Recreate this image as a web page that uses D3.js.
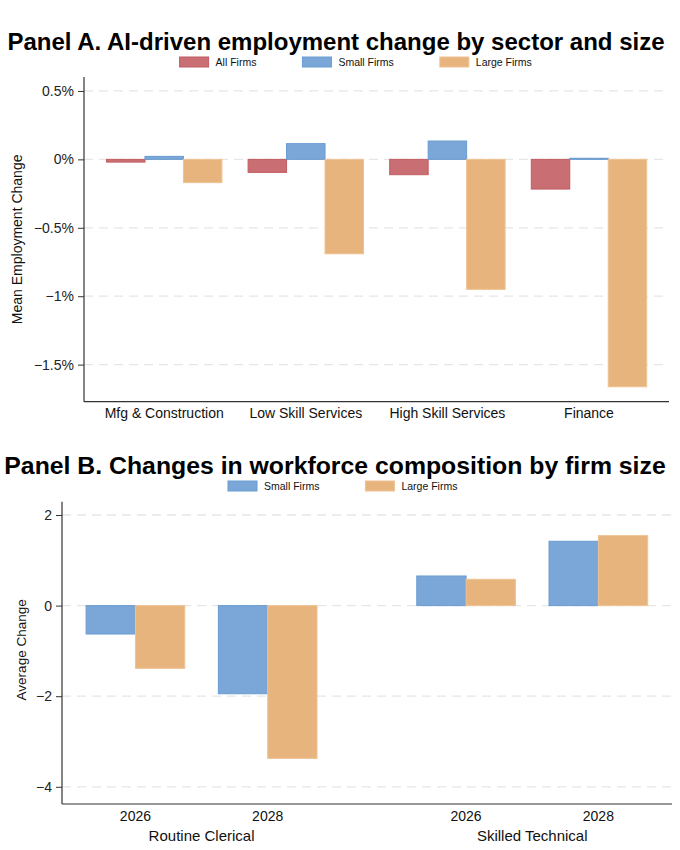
<!DOCTYPE html>
<html>
<head>
<meta charset="utf-8">
<script src="https://cdn.jsdelivr.net/npm/d3@7"></script>
<style>
  html, body { margin: 0; padding: 0; background: #fff; }
  svg { display: block; font-family: "Liberation Sans", Arial, Helvetica, sans-serif; }
</style>
</head>
<body>
<svg id="chart" width="680" height="850"></svg>
<script>
// ---------- Data ----------
const sectors = ["Mfg & Construction", "Low Skill Services", "High Skill Services", "Finance"];
const seriesA = ["All Firms", "Small Firms", "Large Firms"];
const allFirms   = [-0.02, -0.095, -0.112, -0.217];
const smallFirmsA = [0.022, 0.115, 0.134, 0.008];
const largeFirmsA = [-0.17, -0.69, -0.95, -1.662];
const ticksA = [0.5, 0, -0.5, -1, -1.5];

const occupations = ["Routine Clerical", "Skilled Technical"];
const years = ["2026", "2028"];
const seriesB = ["Small Firms", "Large Firms"];
const smallFirmsB = [[-0.627, -1.946], [0.654, 1.42]];
const largeFirmsB = [[-1.385, -3.372], [0.581, 1.545]];
const ticksB = [2, 0, -2, -4];

// ---------- Styles ----------
const colors = {
  "All Firms":   { fill: "#c96e73", stroke: "#c25c62" },
  "Small Firms": { fill: "#7aa7d7", stroke: "#6a9bd1" },
  "Large Firms": { fill: "#e8b47e", stroke: "#efc293" }
};
const axisColor = "#333";
const gridColor = "#e6e6e6";
const minus = s => s.replace(/-/g, "\u2212");

const svg = d3.select("#chart");

function drawLegend(y, startX, items) {
  const g = svg.append("g");
  let x = startX;
  items.forEach(name => {
    g.append("rect").attr("x", x).attr("y", y - 5).attr("width", 29).attr("height", 10)
      .attr("fill", colors[name].fill).attr("stroke", colors[name].stroke).attr("stroke-width", 1);
    const t = g.append("text").attr("x", x + 36).attr("y", y + 4)
      .attr("font-size", 10.5).attr("fill", "#111").text(name);
    x += 36 + t.node().getComputedTextLength() + 46;
  });
}

function yAxis(g, scale, ticks, fmt, left, right) {
  g.append("g").selectAll("line").data(ticks).join("line")
    .attr("x1", left).attr("x2", right)
    .attr("y1", d => scale(d)).attr("y2", d => scale(d))
    .attr("stroke", gridColor).attr("stroke-width", 1.3).attr("stroke-dasharray", "9,6");
  const ax = g.append("g").attr("transform", `translate(${left},0)`)
    .call(d3.axisLeft(scale).tickValues(ticks).tickFormat(fmt).tickSize(6).tickSizeOuter(0));
  ax.select(".domain").remove();
  ax.selectAll(".tick line").attr("stroke", axisColor);
  ax.selectAll(".tick text").attr("font-size", 14).attr("fill", "#222")
    .attr("font-family", "Liberation Sans, Arial, sans-serif").attr("dx", "-1");
}

// ============ Panel A ============
{
  const left = 84, right = 669, top = 77, bottom = 401.7;
  svg.append("text").attr("x", 336).attr("y", 50).attr("text-anchor", "middle")
    .attr("font-size", 24).attr("font-weight", "bold").attr("fill", "#000")
    .text("Panel A. AI-driven employment change by sector and size");
  drawLegend(62, 179.6, seriesA);

  const y = d3.scaleLinear().domain([-1.771, 0.602]).range([bottom, top]);
  const x0 = d3.scaleBand().domain(sectors).range([left + 9.4, right - 9.2])
    .paddingInner(0.185).paddingOuter(0.0925);
  const x1 = d3.scaleBand().domain(seriesA).range([0, x0.bandwidth()]);

  const g = svg.append("g");
  yAxis(g, y, ticksA, d => minus(d3.format("")(d)) + "%", left, right);

  const vals = { "All Firms": allFirms, "Small Firms": smallFirmsA, "Large Firms": largeFirmsA };
  const data = [];
  sectors.forEach((s, i) => seriesA.forEach(k => data.push({ s, k, v: vals[k][i] })));
  g.append("g").selectAll("rect").data(data).join("rect")
    .attr("x", d => x0(d.s) + x1(d.k))
    .attr("width", x1.bandwidth())
    .attr("y", d => y(Math.max(0, d.v)))
    .attr("height", d => Math.abs(y(d.v) - y(0)))
    .attr("fill", d => colors[d.k].fill)
    .attr("stroke", d => colors[d.k].stroke).attr("stroke-width", 1);

  g.append("line").attr("x1", left).attr("x2", left).attr("y1", top).attr("y2", bottom)
    .attr("stroke", axisColor).attr("stroke-width", 1.2);
  g.append("line").attr("x1", left).attr("x2", right).attr("y1", bottom).attr("y2", bottom)
    .attr("stroke", axisColor).attr("stroke-width", 1.2);

  g.append("g").selectAll("text").data(sectors).join("text")
    .attr("x", d => x0(d) + x0.bandwidth() / 2).attr("y", 418)
    .attr("text-anchor", "middle").attr("font-size", 14).attr("fill", "#111").text(d => d);

  svg.append("text").attr("transform", `translate(22,${(top + bottom) / 2}) rotate(-90)`)
    .attr("text-anchor", "middle").attr("font-size", 14).attr("fill", "#111")
    .text("Mean Employment Change");
}

// ============ Panel B ============
{
  const left = 62, right = 672, top = 501.7, bottom = 804;
  svg.append("text").attr("x", 335).attr("y", 474).attr("text-anchor", "middle")
    .attr("font-size", 24.8).attr("font-weight", "bold").attr("fill", "#000")
    .text("Panel B. Changes in workforce composition by firm size");
  drawLegend(486, 228, seriesB);

  const y = d3.scaleLinear().domain([-4.38, 2.294]).range([bottom, top]);
  const x0 = d3.scaleBand().domain(occupations).range([left + 7.3, right - 7.5])
    .paddingInner(0.2).paddingOuter(0);
  const x1 = d3.scaleBand().domain(years).range([0, x0.bandwidth()])
    .paddingInner(0.254).paddingOuter(0.127);
  const x2 = d3.scaleBand().domain(seriesB).range([0, x1.bandwidth()]);

  const g = svg.append("g");
  yAxis(g, y, ticksB, d => minus(String(d)), left, right);

  const vals = { "Small Firms": smallFirmsB, "Large Firms": largeFirmsB };
  const data = [];
  occupations.forEach((o, i) => years.forEach((yr, j) => seriesB.forEach(k =>
    data.push({ o, yr, k, v: vals[k][i][j] }))));
  g.append("g").selectAll("rect").data(data).join("rect")
    .attr("x", d => x0(d.o) + x1(d.yr) + x2(d.k))
    .attr("width", x2.bandwidth())
    .attr("y", d => y(Math.max(0, d.v)))
    .attr("height", d => Math.abs(y(d.v) - y(0)))
    .attr("fill", d => colors[d.k].fill)
    .attr("stroke", d => colors[d.k].stroke).attr("stroke-width", 1);

  g.append("line").attr("x1", left).attr("x2", left).attr("y1", top).attr("y2", bottom)
    .attr("stroke", axisColor).attr("stroke-width", 1.2);
  g.append("line").attr("x1", left).attr("x2", right).attr("y1", bottom).attr("y2", bottom)
    .attr("stroke", axisColor).attr("stroke-width", 1.2);

  const yearLabels = [];
  occupations.forEach(o => years.forEach(yr => yearLabels.push({ o, yr })));
  g.append("g").selectAll("text").data(yearLabels).join("text")
    .attr("x", d => x0(d.o) + x1(d.yr) + x1.bandwidth() / 2).attr("y", 821)
    .attr("text-anchor", "middle").attr("font-size", 14).attr("fill", "#111").text(d => d.yr);
  g.append("g").selectAll("text.grp").data(occupations).join("text")
    .attr("x", d => x0(d) + x0.bandwidth() / 2).attr("y", 841)
    .attr("text-anchor", "middle").attr("font-size", 15).attr("fill", "#111").text(d => d);

  svg.append("text").attr("transform", `translate(26,${(top + bottom) / 2 - 3}) rotate(-90)`)
    .attr("text-anchor", "middle").attr("font-size", 13.5).attr("fill", "#111")
    .text("Average Change");
}
</script>
</body>
</html>
